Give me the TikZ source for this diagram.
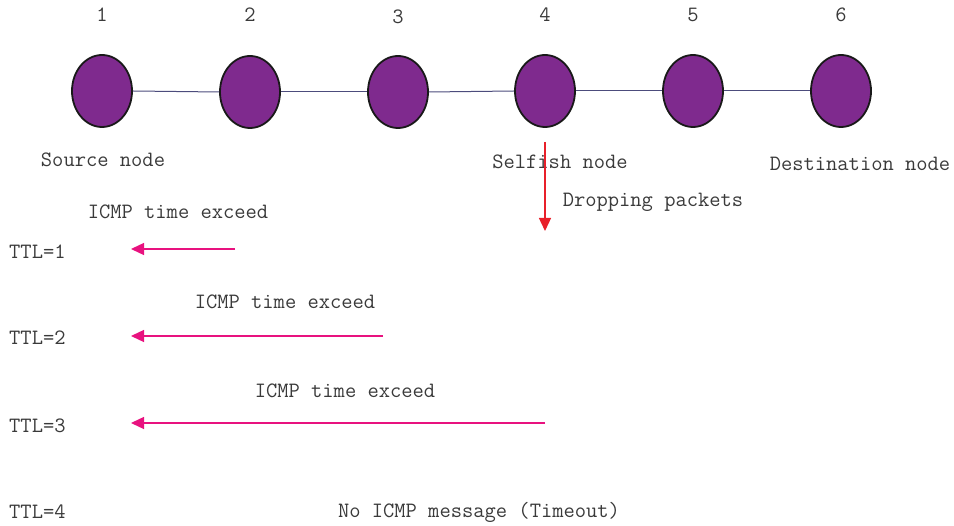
\documentclass[tikz,border=0pt]{standalone}
\usepackage{fontspec}
\usetikzlibrary{shapes.geometric,arrows.meta}
\definecolor{nodefill}{HTML}{7F2A8E}
\definecolor{linkcol}{HTML}{4C4C7C}
\definecolor{txtcol}{HTML}{3A3A3A}
\definecolor{dropred}{HTML}{E8202A}
\definecolor{icmpcol}{HTML}{E8127F}
\tikzset{
  x=1pt, y=-1pt,
  hop/.style={ellipse, draw=black!90, line width=1.8pt, fill=nodefill,
    minimum width=60pt, minimum height=72pt, inner sep=0pt},
  link/.style={draw=linkcol, line width=1pt},
  lbl/.style={anchor=base, inner sep=0pt, text=txtcol,
    font=\fontsize{21.9}{23}\selectfont\ttfamily},
  ttl/.style={lbl, anchor=base west},
  reply/.style={draw=icmpcol, line width=1.3pt, -{Triangle[length=13pt,width=12pt]}},
  drop/.style={draw=dropred, line width=1.3pt, -{Triangle[length=13pt,width=12pt]}}
}
\begin{document}
\begin{tikzpicture}
\useasboundingbox (0,0) rectangle (954,526);
% chain of hops
\node[hop] (n1) at (102,91) {};
\node[hop] (n2) at (250,92) {};
\node[hop] (n3) at (398,92) {};
\node[hop] (n4) at (545,91) {};
\node[hop] (n5) at (693,91) {};
\node[hop] (n6) at (841,91) {};
\foreach \a/\b in {n1/n2,n2/n3,n3/n4,n4/n5,n5/n6}
  \draw[link] (\a.east) -- (\b.west);
% hop numbers
\node[lbl] (h1) at (102,22) {1};
\node[lbl] (h2) at (250,22) {2};
\node[lbl] (h3) at (398,24) {3};
\node[lbl] (h4) at (545,22) {4};
\node[lbl] (h5) at (693,22) {5};
\node[lbl] (h6) at (841,22) {6};
% roles
\node[lbl] (src) at (103,167) {Source node};
\node[lbl] (self) at (560,169) {Selfish node};
\node[lbl] (dst) at (860,171) {Destination node};
\node[lbl] (dropt) at (653,207) {Dropping packets};
% packets dropped at the selfish hop
\coordinate (dtop) at (545,142);
\coordinate (dbot) at (545,231);
\draw[drop] (dtop) -- (dbot);
% traceroute probes
\node[ttl] (t1) at (9,259) {TTL=1};
\node[ttl] (t2) at (9,345) {TTL=2};
\node[ttl] (t3) at (9,433) {TTL=3};
\node[ttl] (t4) at (9,519) {TTL=4};
\node[lbl] (m1) at (178,219) {ICMP time exceed};
\node[lbl] (m2) at (285,309) {ICMP time exceed};
\node[lbl] (m3) at (345,398) {ICMP time exceed};
\node[lbl] (m4) at (479,518) {No ICMP message (Timeout)};
\coordinate (r1s) at (235,249); \coordinate (r1e) at (131,249);
\coordinate (r2s) at (383,336); \coordinate (r2e) at (131,336);
\coordinate (r3s) at (545,423); \coordinate (r3e) at (131,423);
\draw[reply] (r1s) -- (r1e);
\draw[reply] (r2s) -- (r2e);
\draw[reply] (r3s) -- (r3e);
\end{tikzpicture}
\end{document}
